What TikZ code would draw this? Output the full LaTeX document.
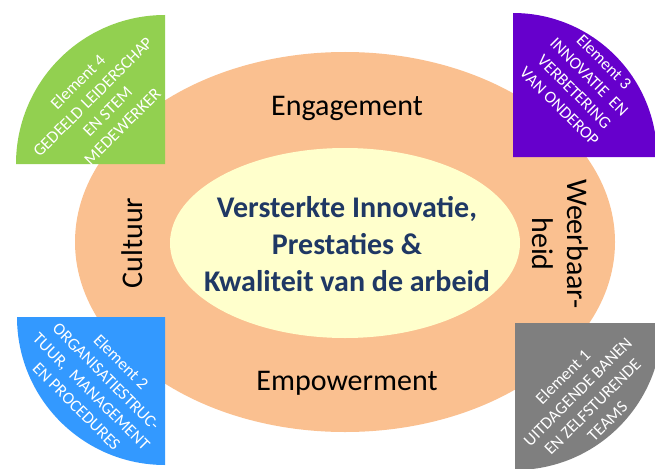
\documentclass[tikz,border=0pt]{standalone}
\usepackage{fontspec}
\setmainfont{Carlito}
\usepackage{tikz}
\definecolor{ringorange}{HTML}{FAC090}
\definecolor{coreyellow}{HTML}{FFFFCC}
\definecolor{corenavy}{HTML}{1F3864}
\definecolor{elemgreen}{HTML}{92D050}
\definecolor{elempurple}{HTML}{6600CC}
\definecolor{elemblue}{HTML}{3399FF}
\definecolor{elemgray}{HTML}{7F7F7F}

\begin{document}
\begin{tikzpicture}[x=1pt,y=1pt]
\tikzstyle{every node}+=[inner sep=0pt]
\tikzstyle{ringtext}=[font=\fontsize{30}{35}\selectfont, align=center]
\tikzstyle{elemtext}=[text=white, font=\fontsize{17}{21}\selectfont, align=center]
\useasboundingbox (0,0) rectangle (655,-468);
% rings
\fill [ringorange] (345,-242) ellipse (270 and 190);
\fill [coreyellow] (345,-243) ellipse (175 and 95);
\draw (347,-244) node [font=\fontsize{30}{37}\selectfont\bfseries, text=corenavy, align=center] (core)
  {Versterkte Innovatie,\\Prestaties \&\\Kwaliteit van de arbeid};
\draw (347,-108) node [ringtext] (engagement) {Engagement};
\draw (347,-383) node [ringtext] (empowerment) {Empowerment};
\draw (132,-243) node [ringtext, rotate=90] (cultuur) {Cultuur};
\draw (560,-244) node [ringtext, rotate=-90] (weerbaarheid) {Weerbaar-\\heid};
% element 4
\fill [elemgreen] (165,-164) -- (16,-164) arc (180:90:149) -- cycle;
\draw (100,-104) node [elemtext, rotate=45] (elem4)
  {Element 4\\GEDEELD LEIDERSCHAP\\EN STEM\\MEDEWERKER};
% element 3
\fill [elempurple] (513,-157) -- (513,-13) arc (90:0:144) -- cycle;
\draw (582,-84) node [elemtext, rotate=-45] (elem3)
  {Element 3\\INNOVATIE\ \ EN\\VERBETERING\\VAN ONDEROP};
% element 2
\fill [elemblue] (165,-317) -- (17,-317) arc (180:270:148) -- cycle;
\draw (99,-384) node [elemtext, rotate=-45] (elem2)
  {Element 2\\ORGANISATIESTRUC-\\TUUR,\ \ MANAGEMENT\\EN PROCEDURES};
% element 1
\fill [elemgray] (515,-323) -- (515,-470) arc (270:360:147) -- cycle;
\draw (585,-399) node [elemtext, rotate=45] (elem1)
  {Element 1\\UITDAGENDE BANEN\\EN ZELFSTURENDE\\TEAMS};
\end{tikzpicture}
\end{document}
